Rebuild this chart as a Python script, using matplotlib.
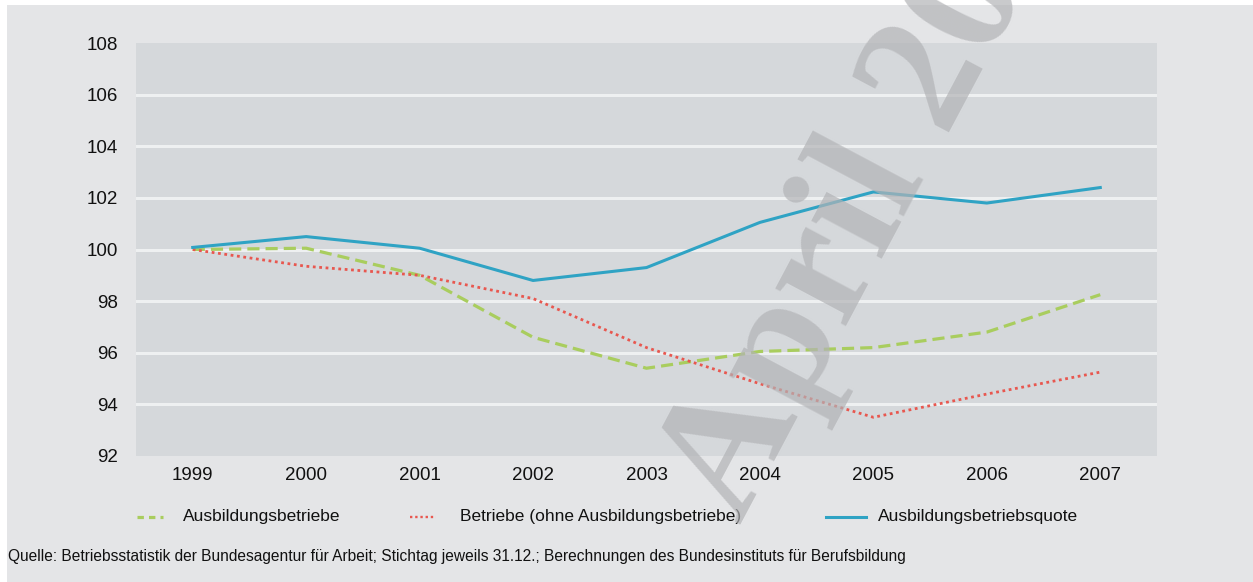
import numpy as np
import matplotlib
matplotlib.use("Agg")
import matplotlib.pyplot as plt
from matplotlib.patches import Rectangle
from matplotlib.lines import Line2D

plt.rcParams['font.family'] = ['Liberation Sans', 'DejaVu Sans']

years = ['1999', '2000', '2001', '2002', '2003', '2004', '2005', '2006', '2007']
ausbildungsbetriebe = [100.0, 100.05, 99.0, 96.6, 95.4, 96.05, 96.2, 96.8, 98.25]
betriebe = [100.0, 99.35, 99.0, 98.1, 96.2, 94.8, 93.5, 94.4, 95.25]
quote = [100.08, 100.5, 100.05, 98.8, 99.3, 101.05, 102.23, 101.8, 102.4]
yticks = [92, 94, 96, 98, 100, 102, 104, 106, 108]

c_green = '#a9cd5e'
c_red = '#e8574f'
c_blue = '#2fa3c4'
dash_green = (0, (3.8, 1.9))
dot_red = (0, (1.0, 1.3))

W, H = 1253, 582
fig = plt.figure(figsize=(W / 100, H / 100), dpi=100)
fig.patch.set_facecolor('white')
fig.add_artist(Rectangle((7 / W, 0), 1 - 7 / W, 1 - 5 / H, transform=fig.transFigure,
                         facecolor='#e4e5e7', edgecolor='none', zorder=-10))

ax = fig.add_axes([136 / W, 1 - 456 / H, (1157 - 136) / W, (456 - 43) / H])
ax.set_facecolor('#d5d8db')
x = np.arange(len(years))
ax.plot(x, ausbildungsbetriebe, color=c_green, lw=2.3, ls=dash_green, zorder=3)
ax.plot(x, betriebe, color=c_red, lw=2.0, ls=dot_red, zorder=3)
ax.plot(x, quote, color=c_blue, lw=2.2, zorder=3)

ax.set_xlim(-0.5, len(years) - 0.5)
ax.set_ylim(92, 108)
ax.set_xticks(x)
ax.set_xticklabels(years)
ax.set_yticks(yticks)
ax.tick_params(length=0, labelsize=13.5, colors='#111111')
ax.tick_params(axis='y', pad=13)
ax.tick_params(axis='x', pad=8)
for s in ax.spines.values():
    s.set_visible(False)
for v in yticks[1:-1]:
    ax.axhline(v, color='#eef0f1', lw=2.2, zorder=1)

# legend entries
entries = [
    (137, 163, 183, 'Ausbildungsbetriebe', dict(color=c_green, lw=2.3, ls=(0, (2.0, 1.6)))),
    (410, 436, 460, 'Betriebe (ohne Ausbildungsbetriebe)', dict(color=c_red, lw=1.7, ls=(0, (1.0, 1.2)))),
    (826, 866, 878, 'Ausbildungsbetriebsquote', dict(color=c_blue, lw=2.2)),
]
ly = 1 - 517 / H
for x0, x1, xt, label, kw in entries:
    fig.add_artist(Line2D([x0 / W, x1 / W], [ly, ly], transform=fig.transFigure, **kw))
    fig.text(xt / W, ly, label, fontsize=12.5, va='center', ha='left', color='#111111')

fig.text(8 / W, 1 - 557 / H,
         'Quelle: Betriebsstatistik der Bundesagentur für Arbeit; Stichtag jeweils 31.12.; '
         'Berechnungen des Bundesinstituts für Berufsbildung',
         fontsize=11.2, va='center', ha='left', color='#111111')

# watermark
fig.text(740 / W, 1 - 526 / H, 'April 2009', fontsize=125, fontweight='bold',
         family='Liberation Serif', rotation=62, rotation_mode='anchor',
         ha='left', va='baseline', color='#b2b3b6', alpha=0.7, zorder=20)

fig.savefig('out.png', dpi=100)
